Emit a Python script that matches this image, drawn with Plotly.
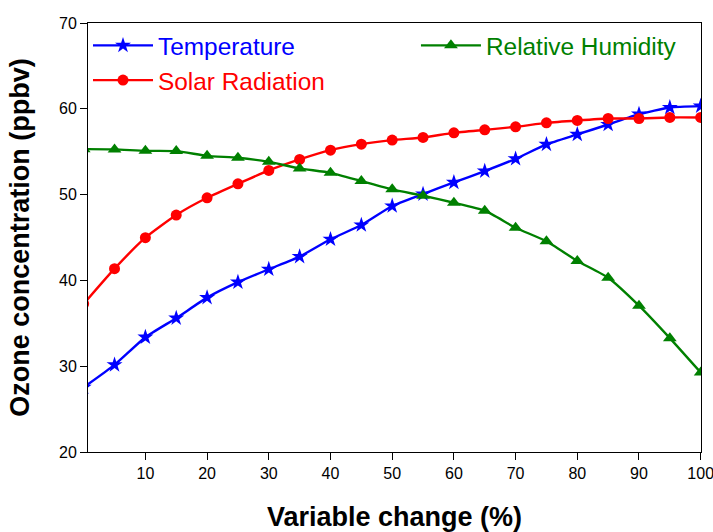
import plotly.graph_objects as go

# Percentage change applied to each meteorological variable
variable_change = [0, 5, 10, 15, 20, 25, 30, 35, 40, 45, 50,
                   55, 60, 65, 70, 75, 80, 85, 90, 95, 100]

# Simulated ozone concentration (ppbv) for each scenario
temperature = [27.54, 30.16, 33.38, 35.60, 37.99, 39.79, 41.30, 42.77, 44.79, 46.45, 48.67,
               50.06, 51.42, 52.74, 54.17, 55.85, 57.01, 58.17, 59.37, 60.15, 60.31]
solar_radiation = [37.27, 41.37, 44.98, 47.62, 49.63, 51.26, 52.82, 54.10, 55.18, 55.88, 56.35,
                   56.66, 57.20, 57.55, 57.90, 58.36, 58.64, 58.87, 58.87, 58.99, 58.99]
relative_humidity = [55.30, 55.27, 55.10, 55.07, 54.52, 54.29, 53.82, 53.05, 52.54, 51.58, 50.61,
                     49.87, 49.05, 48.12, 46.14, 44.56, 42.27, 40.32, 37.06, 33.27, 29.26]

x_ticks = [10, 20, 30, 40, 50, 60, 70, 80, 90, 100]
y_ticks = [20, 30, 40, 50, 60, 70]

FONT = "Liberation Sans, Arial, sans-serif"

# name, values, colour, marker symbol, marker size, legend box
series = [
    ("Temperature", temperature, "#0000FF", "star", 12, "legend"),
    ("Solar Radiation", solar_radiation, "#FF0000", "circle", 11, "legend"),
    ("Relative Humidity", relative_humidity, "#008000", "triangle-up", 12, "legend2"),
]

fig = go.Figure()
for name, values, color, symbol, size, legend_id in series:
    fig.add_trace(go.Scatter(
        x=variable_change,
        y=values,
        mode="lines+markers",
        name=f"<span style='color:{color}'>{name}</span>",
        line=dict(color=color, width=2.4, shape="spline", smoothing=0.5),
        marker=dict(color=color, symbol=symbol, size=size, line=dict(width=0)),
        cliponaxis=True,
        legend=legend_id,
    ))

legend_style = dict(
    orientation="v",
    yanchor="top",
    xanchor="left",
    bgcolor="rgba(0,0,0,0)",
    font=dict(family=FONT, size=24.4),
    itemwidth=60,
    traceorder="normal",
)

fig.update_layout(
    width=713,
    height=532,
    margin=dict(l=88, r=12, t=23, b=80),
    paper_bgcolor="white",
    plot_bgcolor="white",
    font=dict(family=FONT, color="black", size=16),
    showlegend=True,
    legend=dict(x=0.0, y=1.0, **legend_style),
    legend2=dict(x=0.535, y=1.0, **legend_style),
    xaxis=dict(
        range=[0.7, 100.05],
        tickvals=x_ticks,
        ticks="outside", ticklen=7, tickwidth=1, tickcolor="black",
        showline=True, linecolor="black", linewidth=1, mirror=True,
        showgrid=False, zeroline=False,
        tickfont=dict(size=16, color="black"),
        ticklabeloverflow="allow",
        automargin=False,
        title=dict(text="<b>Variable change (%)</b>",
                   font=dict(size=27, color="black"), standoff=29),
    ),
    yaxis=dict(
        range=[20, 70],
        tickvals=y_ticks,
        ticks="outside", ticklen=7, tickwidth=1, tickcolor="black",
        showline=True, linecolor="black", linewidth=1, mirror=True,
        showgrid=False, zeroline=False,
        tickfont=dict(size=16, color="black"),
        automargin=False,
        title=dict(text="<b>Ozone concentration (ppbv)</b>",
                   font=dict(size=27, color="black"), standoff=21),
    ),
)

fig.write_html("out.html")
